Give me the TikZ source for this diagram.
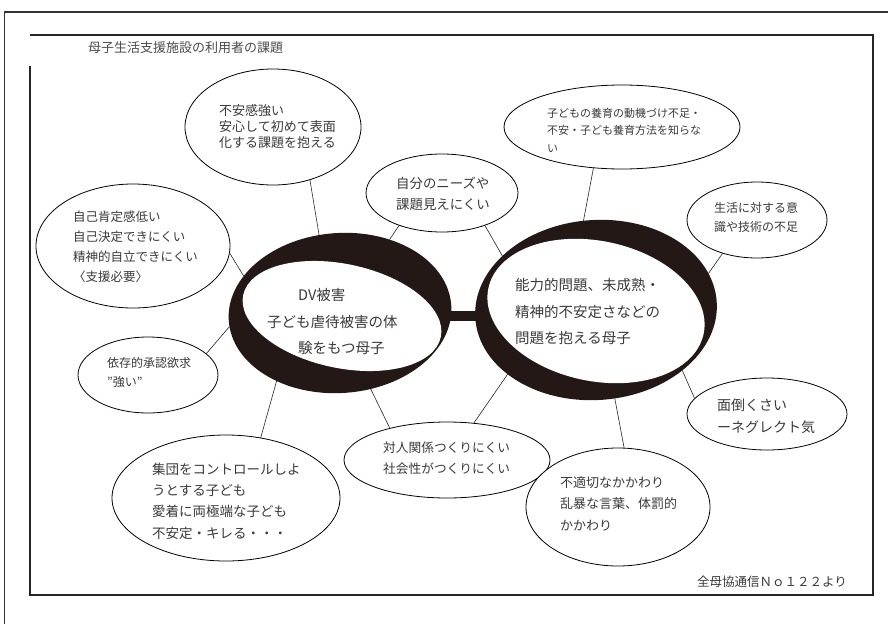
\documentclass[tikz,border=0pt]{standalone}
\usepackage{fontspec}
\setmainfont{Noto Sans CJK JP}
\usetikzlibrary{shapes.geometric}
\definecolor{ringblack}{HTML}{231815}
\definecolor{inkgray}{HTML}{3A3A3A}
\newcommand{\fsz}[2]{\fontsize{#1}{#2}\selectfont}
\begin{document}
\begin{tikzpicture}[x=1pt,y=-1pt,
  bub/.style={ellipse, draw=black, line width=0.8pt, inner sep=0pt, outer sep=0pt, fill=white},
  ringout/.style={ellipse, fill=ringblack, inner sep=0pt, outer sep=0pt},
  ringin/.style={ellipse, fill=white, inner sep=0pt, outer sep=0pt},
  txt/.style={anchor=west, align=left, inner sep=0pt, text=inkgray},
  con/.style={line width=0.6pt, draw=black!85}]
\useasboundingbox (0,0) rectangle (888,624);
\fill[white] (0,0) rectangle (888,624);
% frames
\draw[line width=1.2pt, black!80] (4.5,624) -- (4.5,12) -- (888,12);
\draw[line width=1.3pt, black!85] (30,66) -- (30,595) -- (873,595) -- (873,35) -- (30,35);
\node[txt, text=black!70, font=\fsz{13}{16}] (title) at (88,48) {母子生活支援施設の利用者の課題};

% bubbles
\node[bub, minimum width=176pt, minimum height=116pt] (e1) at (273,127) {};
\node[bub, minimum width=194pt, minimum height=124pt] (e2) at (133,246) {};
\node[bub, minimum width=152pt, minimum height=78pt] (e6) at (442,193) {};
\node[bub, minimum width=236pt, minimum height=84pt] (e7) at (622,127) {};
\node[bub, minimum width=140pt, minimum height=76pt] (e8) at (757,220) {};
\node[bub, minimum width=140pt, minimum height=76pt] (e9) at (148,375) {};
\node[bub, minimum width=228pt, minimum height=126pt] (e10) at (226,498) {};
\node[bub, minimum width=206pt, minimum height=76pt] (e11) at (447,460) {};
\node[bub, minimum width=184pt, minimum height=118pt] (e12) at (618,507) {};
\node[bub, minimum width=160pt, minimum height=72pt] (e13) at (767,414) {};

% rings
\node[ringout, rotate=4, minimum width=223pt, minimum height=160pt] (dvo) at (340,313) {};
\node[ringout, rotate=4, minimum width=242pt, minimum height=180pt] (rro) at (596,310) {};
\draw[line width=10pt, ringblack] ([yshift=-3pt]dvo.center) -- ([yshift=-6pt]rro.center);
\node[ringin, rotate=-12, minimum width=202pt, minimum height=104pt] (dvi) at (342,316) {};
\node[ringin, rotate=-12, minimum width=220pt, minimum height=140pt] (rri) at (596,311) {};

% connectors
\draw[con] (e1.-55) -- (dvo.101);
\draw[con] (e2.-4) -- (dvo.155);
\draw[con] (e9.20) -- (dvo.183);
\draw[con] (e10.60) -- (dvo.-137);
\draw[con] (e11.151) -- (dvo.-72);
\draw[con] (e6.-143) -- (dvo.52);
\draw[con] (e6.-37) -- (rro.146);
\draw[con] (e7.-125) -- (rro.94);
\draw[con] (e8.-136) -- (rro.14);
\draw[con] (e13.168) -- (rro.-39);
\draw[con] (e12.84) -- (rro.-82);
\draw[con] (e11.54) -- (rro.-148);

% texts
\node[txt, font=\fsz{13}{16}] (t1) at (219,127) {不安感強い\\安心して初めて表面\\化する課題を抱える};
\node[txt, font=\fsz{12.5}{20}] (t2) at (73,247) {自己肯定感低い\\自己決定できにくい\\精神的自立できにくい\\〈支援必要〉};
\node[txt, font=\fsz{13.4}{21}] (t6) at (396,193.5) {自分のニーズや\\課題見えにくい};
\node[txt, font=\fsz{11}{17.5}] (t7) at (547,130) {子どもの養育の動機づけ不足・\\不安・子ども養育方法を知らな\\い};
\node[txt, font=\fsz{12}{19}] (t8) at (714,217.5) {生活に対する意\\識や技術の不足};
\node[txt, font=\fsz{12}{19}] (t9) at (107,372.5) {依存的承認欲求\\"強い"};
\node[txt, font=\fsz{13.5}{21.3}] (t10) at (152,501) {集団をコントロールしよ\\うとする子ども\\愛着に両極端な子ども\\不安定・キレる・・・};
\node[txt, font=\fsz{12.7}{21}] (t11) at (383,458.5) {対人関係つくりにくい\\社会性がつくりにくい};
\node[txt, font=\fsz{13}{21.5}] (t12) at (560,503.5) {不適切なかかわり\\乱暴な言葉、体罰的\\かかわり};
\node[txt, font=\fsz{14}{22}] (t13) at (717,416) {面倒くさい\\ーネグレクト気};
\node[txt, font=\fsz{14.5}{26}] (dv1) at (298,295) {DV被害};
\node[txt, font=\fsz{14.5}{26}] (dv2) at (267,322) {子ども虐待被害の体};
\node[txt, font=\fsz{14.5}{26}] (dv3) at (298,348) {験をもつ母子};
\node[txt, font=\fsz{14.5}{26.5}] (rr) at (515,311.5) {能力的問題、未成熟・\\精神的不安定さなどの\\問題を抱える母子};
\node[txt, font=\fsz{12.5}{15}] (src) at (697,582) {全母協通信Ｎｏ１２２より};
\end{tikzpicture}
\end{document}
